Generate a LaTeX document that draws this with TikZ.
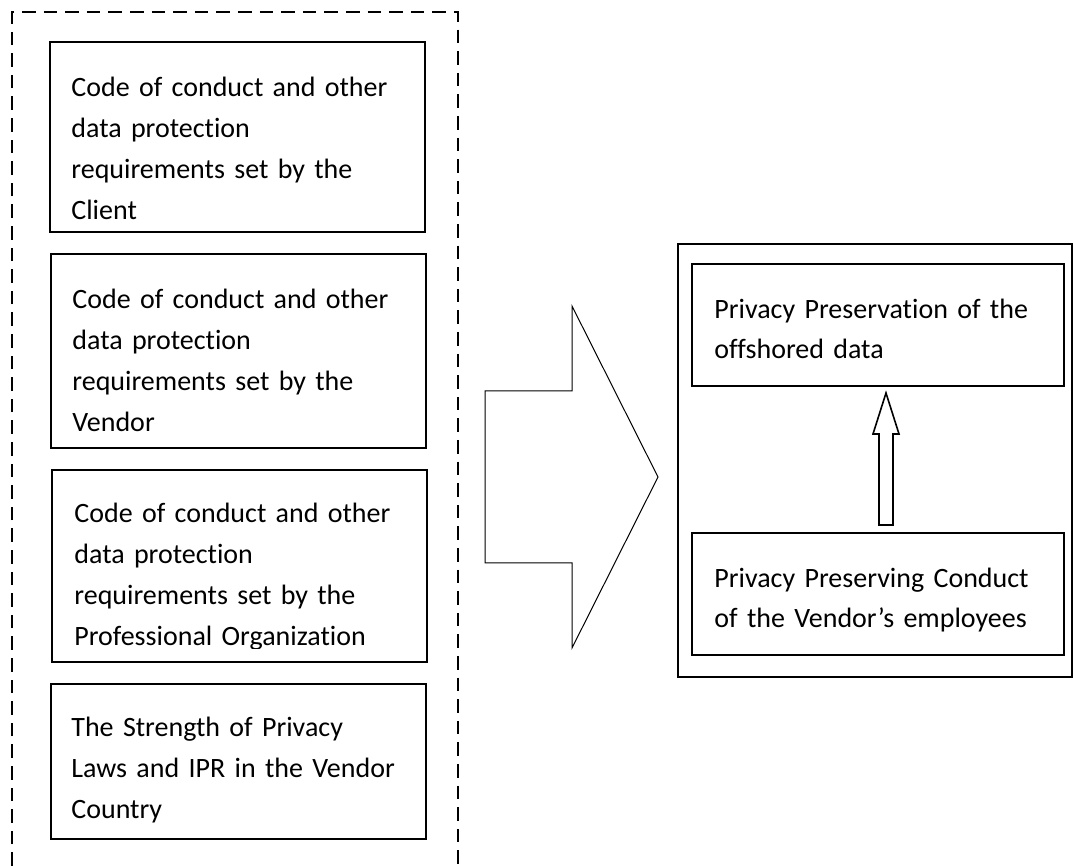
\documentclass[tikz,border=0pt]{standalone}
\usepackage{fontspec}
\setmainfont{Carlito}[RawFeature=-liga]
\usetikzlibrary{fit}

\tikzset{
  box/.style={draw, line width=0.8pt, inner sep=0pt},
  txt/.style={anchor=base west, inner sep=0pt, text width=200pt, align=left,
    font=\fontsize{14pt}{20.5pt}\selectfont},
  rtxt/.style={txt, font=\fontsize{14pt}{19.75pt}\selectfont},
}

\begin{document}
\begin{tikzpicture}[x=0.5pt, y=-0.5pt]
        \useasboundingbox[fill=white] (0,0) rectangle (1073,866);
        % Dashed frame (open at the bottom)
        \draw[line width=0.9pt, dash pattern=on 6.8pt off 4pt]
          (12,866) -- (12,12) -- (458,12) -- (458,866);
        % Influencing factors
        \node[box, fit={(50,42) (425,232)}] (client) {};
        \node[txt] (clienttxt) at (71,97)
          {Code of conduct and other\\data protection\\requirements set by the\\Client};
        \node[box, fit={(51,254) (426,448)}] (vendor) {};
        \node[txt] (vendortxt) at (72,309)
          {Code of conduct and other\\data protection\\requirements set by the\\Vendor};
        \node[box, fit={(52,470) (427,662)}] (profession) {};
        \begin{scope}
          \clip (52,470) rectangle (427,649);
          \node[txt] (professiontxt) at (74,523)
            {Code of conduct and other\\data protection\\requirements set by the\\Professional Organization};
        \end{scope}
        \node[box, fit={(51,684) (426,839)}] (laws) {};
        \node[txt] (lawstxt) at (71,737)
          {The Strength of Privacy\\Laws and IPR in the Vendor\\Country};
        % Big arrow
        \draw[line width=0.5pt] (485,391) -- (572,391) -- (572,306) -- (658,477)
          -- (572,648) -- (572,563) -- (485,563) -- cycle;
        % Outcome
        \node[box, fit={(678,244) (1072,677)}] (outcome) {};
        \node[box, fit={(692,264) (1064,386)}] (preservation) {};
        \node[rtxt] (preservationtxt) at (714,319)
          {Privacy Preservation of the\\offshored data};
        \node[box, fit={(692,533) (1064,655)}] (conduct) {};
        \node[rtxt] (conducttxt) at (714,588)
          {Privacy Preserving Conduct\\of the Vendor’s employees};
        % Small arrow
        \draw[line width=0.8pt] (879,525) -- (879,434) -- (873,434) -- (886,393)
          -- (899,434) -- (893,434) -- (893,525) -- cycle;
      \end{tikzpicture}
\end{document}
